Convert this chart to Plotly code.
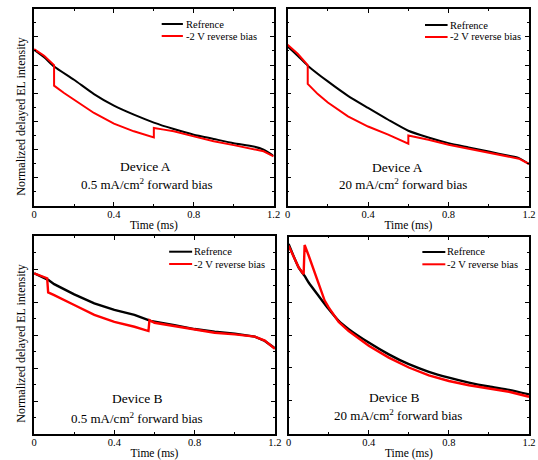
import plotly.graph_objects as go
from plotly.subplots import make_subplots

# ---------------- data ----------------
# Panel 1: Device A, 0.5 mA/cm2
tA05_ref = [0, 0.05, 0.1, 0.2, 0.3, 0.4, 0.5, 0.6, 0.7, 0.8, 0.9, 1.0, 1.1, 1.15, 1.2]
yA05_ref = [5.54, 5.28, 4.95, 4.48, 3.97, 3.56, 3.24, 2.96, 2.73, 2.53, 2.38, 2.23, 2.11, 2.00, 1.78]
tA05_rev = [0, 0.05, 0.1, 0.1, 0.15, 0.2, 0.3, 0.4, 0.5, 0.6, 0.6, 0.65, 0.7, 0.8, 0.9, 1.0, 1.1, 1.15, 1.2]
yA05_rev = [5.57, 5.33, 5.00, 4.27, 4.01, 3.77, 3.30, 2.92, 2.65, 2.43, 2.77, 2.71, 2.65, 2.47, 2.30, 2.16, 2.02, 1.94, 1.76]

# Panel 2: Device A, 20 mA/cm2
tA20_ref = [0, 0.05, 0.1, 0.2, 0.3, 0.4, 0.5, 0.6, 0.7, 0.8, 0.9, 1.0, 1.1, 1.15, 1.2]
yA20_ref = [5.66, 5.33, 4.98, 4.42, 3.91, 3.48, 3.06, 2.67, 2.43, 2.23, 2.08, 1.93, 1.78, 1.70, 1.49]
tA20_rev = [0, 0.05, 0.1, 0.1, 0.15, 0.2, 0.3, 0.4, 0.5, 0.6, 0.6, 0.7, 0.8, 0.9, 1.0, 1.1, 1.15, 1.2]
yA20_rev = [5.72, 5.40, 5.00, 4.33, 3.97, 3.67, 3.18, 2.82, 2.53, 2.21, 2.50, 2.35, 2.17, 2.03, 1.90, 1.76, 1.68, 1.49]

# Panel 3: Device B, 0.5 mA/cm2
tB05_ref = [0, 0.07, 0.1, 0.2, 0.3, 0.4, 0.5, 0.58, 0.7, 0.8, 0.9, 1.0, 1.1, 1.15, 1.2]
yB05_ref = [4.87, 4.67, 4.54, 4.23, 3.96, 3.76, 3.61, 3.43, 3.30, 3.18, 3.10, 3.04, 2.95, 2.82, 2.60]
tB05_rev = [0, 0.065, 0.07, 0.1, 0.2, 0.3, 0.4, 0.5, 0.57, 0.575, 0.6, 0.7, 0.8, 0.9, 1.0, 1.1, 1.15, 1.2]
yB05_rev = [4.87, 4.72, 4.29, 4.21, 3.91, 3.61, 3.40, 3.25, 3.12, 3.45, 3.37, 3.27, 3.15, 3.07, 3.02, 2.95, 2.83, 2.58]

# Panel 4: Device B, 20 mA/cm2
tB20_ref = [0, 0.05, 0.08, 0.1, 0.15, 0.2, 0.25, 0.3, 0.4, 0.5, 0.6, 0.7, 0.8, 0.9, 1.0, 1.1, 1.2]
yB20_ref = [5.77, 5.06, 4.80, 4.60, 4.19, 3.79, 3.43, 3.18, 2.77, 2.41, 2.11, 1.88, 1.70, 1.55, 1.43, 1.33, 1.19]
tB20_rev = [0, 0.05, 0.075, 0.08, 0.1, 0.15, 0.18, 0.2, 0.25, 0.3, 0.4, 0.5, 0.6, 0.7, 0.8, 0.9, 1.0, 1.1, 1.2]
yB20_rev = [5.72, 5.06, 4.85, 5.74, 5.42, 4.55, 4.05, 3.84, 3.40, 3.12, 2.67, 2.31, 2.01, 1.77, 1.60, 1.47, 1.37, 1.27, 1.12]

series_names = ["Refrence", "-2 V reverse bias"]
series_colors = ["#000000", "#ff0000"]
x_ticks = [0, 0.4, 0.8, 1.2]
x_tick_text = ["0", "0.4", "0.8", "1.2"]
device_labels = ["Device A", "Device A", "Device B", "Device B"]
bias_labels = ["0.5 mA/cm<sup>2</sup> forward bias", "20 mA/cm<sup>2</sup> forward bias",
               "0.5 mA/cm<sup>2</sup> forward bias", "20 mA/cm<sup>2</sup> forward bias"]
y_title = "Normalized delayed EL intensity"
x_title = "Time (ms)"

FONT = "Liberation Serif, Times New Roman, serif"
W, H = 538, 460

def px_x(p):
    return p / W

def px_y(p):
    return 1 - p / H

fig = make_subplots(rows=2, cols=2)

# (ref t, ref y, rev t, rev y, row, col, ref shape, rev shape, line width)
panels = [
    (tA05_ref, yA05_ref, tA05_rev, yA05_rev, 1, 1, "spline", "linear", 2),
    (tA20_ref, yA20_ref, tA20_rev, yA20_rev, 1, 2, "spline", "linear", 2),
    (tB05_ref, yB05_ref, tB05_rev, yB05_rev, 2, 1, "linear", "linear", 2.4),
    (tB20_ref, yB20_ref, tB20_rev, yB20_rev, 2, 2, "spline", "linear", 2.4),
]
for tr, yr, tv, yv, r, c, s_ref, s_rev, lw in panels:
    fig.add_trace(go.Scatter(x=tr, y=yr, mode="lines", name=series_names[0],
                             line=dict(color=series_colors[0], width=lw, shape=s_ref, smoothing=0.6)),
                  row=r, col=c)
    fig.add_trace(go.Scatter(x=tv, y=yv, mode="lines", name=series_names[1],
                             line=dict(color=series_colors[1], width=lw, shape=s_rev)),
                  row=r, col=c)

# domains (pixel based)
x_domains = [(31.7, 275.7), (290, 536), (31.7, 277), (291, 536)]
y_domains = [(8.7, 206), (8.7, 206), (236, 434), (236.5, 433.5)]
y_ranges = [(0, 7), (0, 7), (0, 6), (0, 6)]

for i in range(4):
    xa = "xaxis" if i == 0 else f"xaxis{i+1}"
    ya = "yaxis" if i == 0 else f"yaxis{i+1}"
    x0, x1 = x_domains[i]
    t0, t1 = y_domains[i]
    fig.layout[xa].update(
        domain=[px_x(x0), px_x(x1)], range=[0, 1.2],
        tickvals=x_ticks, ticktext=x_tick_text,
        ticks="inside", ticklen=4, tickwidth=1.2, tickcolor="black",
        minor=dict(dtick=0.2, tick0=0, ticks="inside", ticklen=2, tickcolor="black", tickwidth=1),
        showline=True, linecolor="black", linewidth=1.6, mirror="ticks",
        showgrid=False, zeroline=False,
        ticklabelstandoff=-2,
        tickfont=dict(family=FONT, size=10.5, color="black"),
        title=dict(text=x_title, font=dict(family=FONT, size=11.5, color="black"), standoff=2),
    )
    fig.layout[ya].update(
        domain=[px_y(t1), px_y(t0)], range=list(y_ranges[i]),
        dtick=1, tick0=0, showticklabels=False,
        ticks="inside", ticklen=4, tickwidth=1.2, tickcolor="black",
        minor=dict(dtick=0.5, tick0=0, ticks="inside", ticklen=2, tickcolor="black", tickwidth=1),
        showline=True, linecolor="black", linewidth=1.6, mirror="ticks",
        showgrid=False, zeroline=False,
    )

# annotation texts inside panels
dev_pos = [(145, 166), (402, 167), (137, 398), (399, 397)]
bias_pos = [(147, 184), (408, 184), (137, 418), (402, 415)]
for i in range(4):
    fig.add_annotation(x=px_x(dev_pos[i][0]), y=px_y(dev_pos[i][1]), xref="paper", yref="paper",
                       text=device_labels[i], showarrow=False,
                       font=dict(family=FONT, size=13.5, color="black"),
                       xanchor="center", yanchor="middle")
    fig.add_annotation(x=px_x(bias_pos[i][0]), y=px_y(bias_pos[i][1]), xref="paper", yref="paper",
                       text=bias_labels[i], showarrow=False,
                       font=dict(family=FONT, size=13, color="black"),
                       xanchor="center", yanchor="middle")

# y titles (left column)
for yc in (116, 343):
    fig.add_annotation(x=px_x(18), y=px_y(yc), xref="paper", yref="paper",
                       text=y_title, textangle=-90, showarrow=False,
                       font=dict(family=FONT, size=12, color="black"),
                       xanchor="center", yanchor="middle")

# legend keys drawn per panel: (line x0, line x1, row1 y, row2 y, text x)
legend_keys = [(161.7, 183.3, 24, 36, 186), (430, 453, 25, 37, 455),
               (169.3, 192.7, 251.7, 264, 194.5), (427.3, 450.7, 252, 264.3, 452)]
for lx0, lx1, ly1, ly2, tx in legend_keys:
    for k, ly in enumerate((ly1, ly2)):
        fig.add_shape(type="line", xref="paper", yref="paper",
                      x0=px_x(lx0), x1=px_x(lx1), y0=px_y(ly), y1=px_y(ly),
                      line=dict(color=series_colors[k], width=2))
        fig.add_annotation(x=px_x(tx), y=px_y(ly), xref="paper", yref="paper",
                           text=series_names[k], showarrow=False,
                           font=dict(family=FONT, size=10.5, color="black"),
                           xanchor="left", yanchor="middle", xshift=-2)

fig.update_layout(
    width=W, height=H, autosize=False,
    margin=dict(l=0, r=0, t=0, b=0),
    paper_bgcolor="white", plot_bgcolor="white",
    showlegend=False,
    font=dict(family=FONT, color="black"),
)

fig.write_html("out.html",
               config={"displayModeBar": False},
               post_script="document.body.style.margin='0';document.body.style.padding='0';")
